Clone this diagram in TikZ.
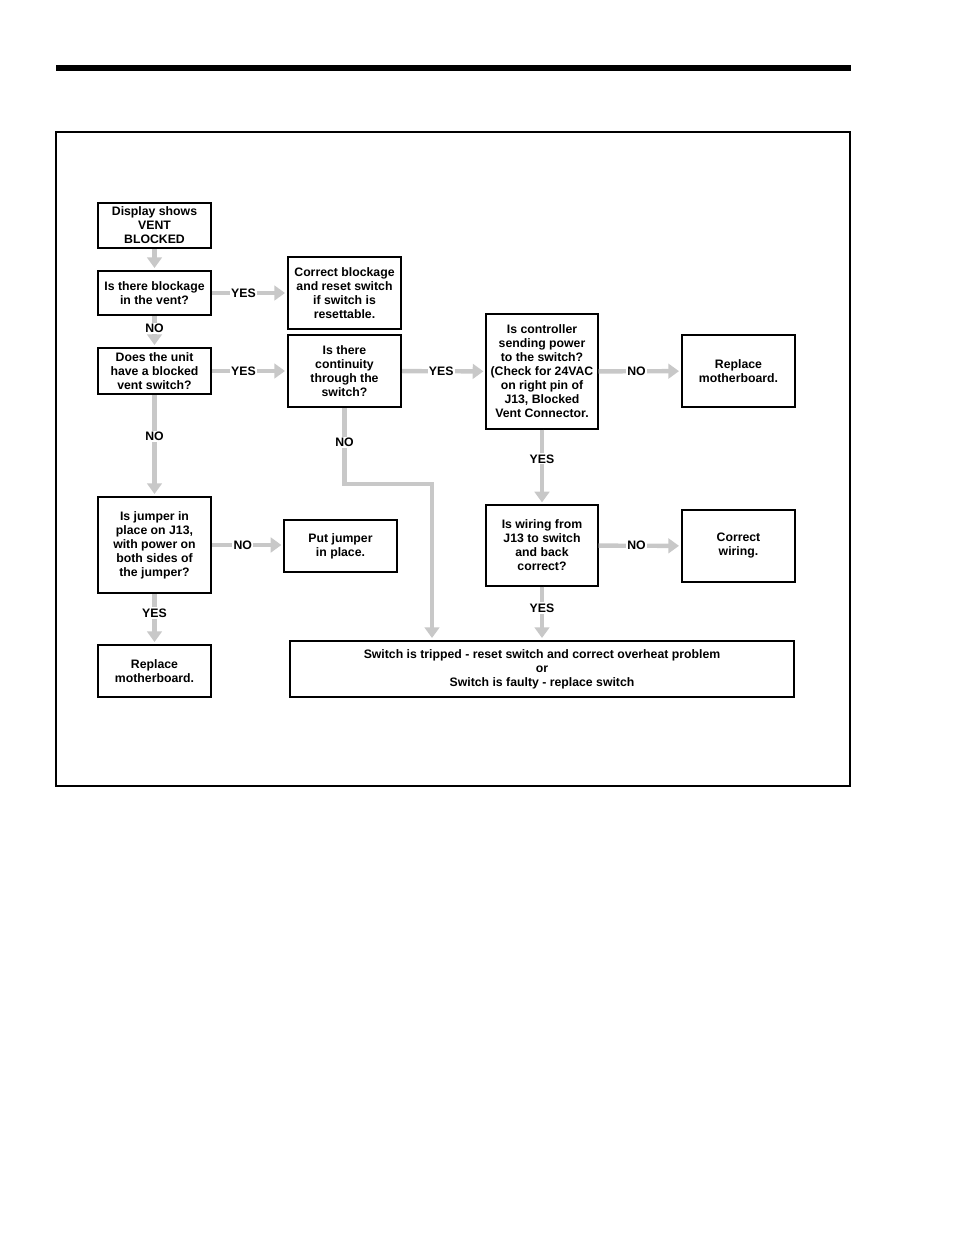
\documentclass[tikz,border=0pt]{standalone}
\usepackage{fontspec}
\setmainfont{Liberation Sans}
\usetikzlibrary{arrows.meta,calc}
\definecolor{arrgray}{HTML}{C8C8C8}
\begin{document}
\begin{tikzpicture}[x=0.75pt,y=-0.75pt,
  bx/.style 2 args={draw=black,rectangle,inner sep=0pt,align=center,
    minimum width=#1*0.75pt,minimum height=#2*0.75pt,
    font=\fontsize{9.2pt}{10.5pt}\selectfont\bfseries},
  thick box/.style={line width=1.5pt},
  thin box/.style={line width=0.9pt},
  arr/.style={draw=arrgray,line width=3.3pt,shorten >=1.5pt,
    -{Triangle[width=11pt,length=8pt]}},
  lbl/.style={fill=white,inner sep=1pt,text=black,
    font=\fontsize{9.2pt}{10.5pt}\selectfont\bfseries}]
\useasboundingbox (0,0) rectangle (954,1235);
% top bar and frame
\fill[black] (56,65) rectangle (851,71);
\draw[line width=0.8pt] (56,132) rectangle (850,786);
% boxes
\node[bx={113}{45},thick box] (disp) at (154.5,225.5) {Display shows\\VENT\\BLOCKED};
\node[bx={113}{44},thick box] (blk) at (154.5,293) {Is there blockage\\in the vent?};
\node[bx={113}{72},thick box] (corr) at (344.5,293) {Correct blockage\\and reset switch\\if switch is\\resettable.};
\node[bx={113}{46},thick box] (unit) at (154.5,371) {Does the unit\\have a blocked\\vent switch?};
\node[bx={113}{72},thick box] (cont) at (344.5,371) {Is there\\continuity\\through the\\switch?};
\node[bx={112}{115},thin box] (ctrl) at (542,371.5) {Is controller\\sending power\\to the switch?\\(Check for 24VAC\\on right pin of\\J13, Blocked\\Vent Connector.};
\node[bx={113}{72},thick box] (rep1) at (738.5,371) {Replace\\motherboard.};
\node[bx={113}{96},thick box] (jump) at (154.5,545) {Is jumper in\\place on J13,\\with power on\\both sides of\\the jumper?};
\node[bx={113}{52},thin box] (put) at (340.5,546) {Put jumper\\in place.};
\node[bx={112}{81},thin box] (wir) at (542,545.5) {Is wiring from\\J13 to switch\\and back\\correct?};
\node[bx={113}{72},thick box] (cw) at (738.5,546) {Correct\\wiring.};
\node[bx={113}{52},thick box] (rep2) at (154.5,671) {Replace\\motherboard.};
\node[bx={504}{56},thick box] (sw) at (542,669) {Switch is tripped - reset switch and correct overheat problem\\or\\Switch is faulty - replace switch};
% connectors
\draw[arr] (disp) -- (blk);
\draw[arr] (blk) -- node[lbl,pos=0.42]{YES} (corr);
\draw[arr] (blk) -- node[lbl,pos=0.4]{NO} (unit);
\draw[arr] (unit) -- node[lbl,pos=0.42]{YES} (cont);
\draw[arr] (cont) -- node[lbl,pos=0.47]{YES} (ctrl);
\draw[arr] (ctrl) -- node[lbl,pos=0.46]{NO} (rep1);
\draw[arr] (unit) -- node[lbl,pos=0.41]{NO} (jump);
\draw[arr] (jump.east) -- node[lbl,pos=0.43]{NO} (put.west |- jump.east);
\draw[arr] (jump) -- node[lbl,pos=0.38]{YES} (rep2);
\draw[arr] (ctrl) -- node[lbl,pos=0.39]{YES} (wir);
\draw[arr] (wir) -- node[lbl,pos=0.46]{NO} (cw);
\draw[arr] (wir) -- node[lbl,pos=0.4]{YES} (sw.north -| wir.south);
\coordinate (bend) at (432,484);
\draw[arr] (cont.south) -- node[lbl,pos=0.45]{NO} (cont.south |- bend) -- (bend) -- (bend |- sw.north);
\end{tikzpicture}
\end{document}
